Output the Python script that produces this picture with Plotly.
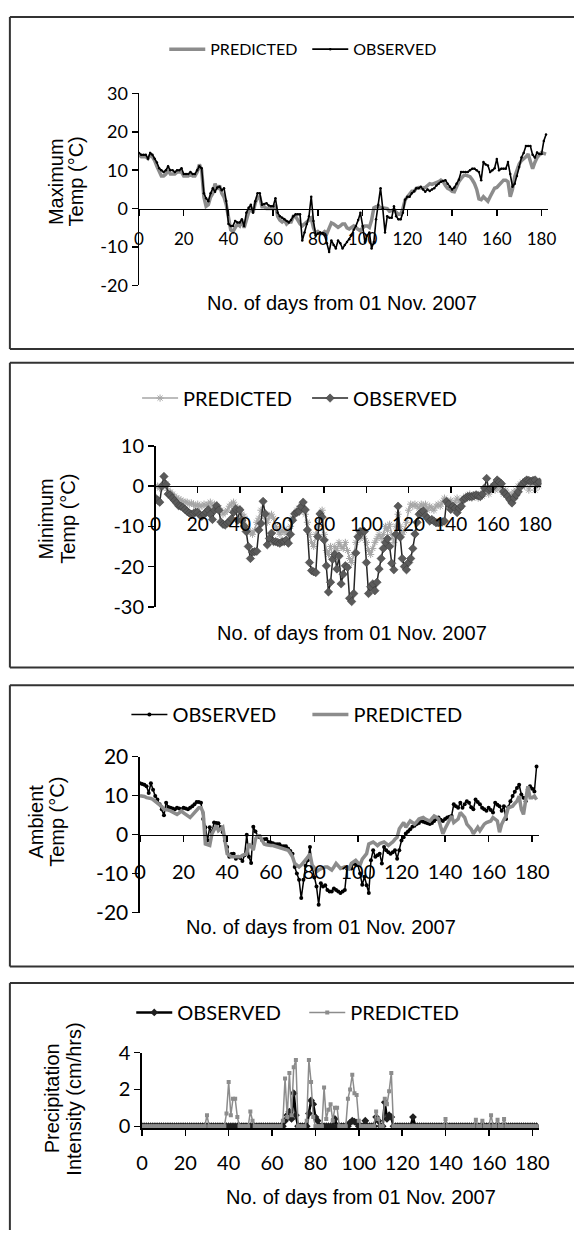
import plotly.graph_objects as go

W, H = 585, 1241

days = list(range(183))
x_ticks = [0, 20, 40, 60, 80, 100, 120, 140, 160, 180]

# ---------------- Panel 1: Maximum temperature ----------------
max_obs = [
    14.5, 14, 14, 14, 13, 14.5, 14, 13, 12, 10.5,
    10, 9.5, 10, 11, 10, 10, 9.5, 10, 10, 10.5,
    9, 9, 9, 9.5, 9, 9, 10, 11, 10.5, 4,
    2.7, 1.9, 4, 5.3, 4.4, 5.5, 5.7, 4.8, 5.3, 2,
    -4, -4.5, -4.5, -3.2, -3.6, -3.6, -2.8, -4.5, -1.1, 0.2,
    1, -1.1, 1.9, 4, 4, 1, 1.2, 1.4, 0.8, 0.6,
    0.6, 2.7, -1.1, -2, -2.4, -2.8, -3.2, -3.6, -3, -2,
    -1.5, -1.5, -1.5, -8.3, -6.2, -4, -2, 3.1, -3.2, -7,
    -6.5, -6.2, -6.5, -7, -9, -11.3, -8.3, -9.5, -10.4, -8.3,
    -9, -10.4, -9.5, -8.7, -8, -7, -5.5, -4.5, -3, -1.1,
    -4.5, -8.7, -7, -6.2, -10.4, -8.7, -2.8, 1, 5.3, 0,
    -6.2, -2, -2.4, -2.4, 0.6, -2, -2.8, -2.8, -1.1, 2.3,
    3.1, 3.1, 4, 4.5, 5.3, 5.3, 5.7, 5, 4.4, 5,
    4.6, 5, 5.3, 6, 6.5, 7, 7.2, 7.4, 6.5, 5.7,
    5, 5.5, 6.5, 7.5, 9.5, 9.5, 9.5, 9.5, 10, 10.4,
    10.4, 10, 9.5, 7.4, 12.1, 11.5, 11.2, 9.5, 10, 10.5,
    12.9, 10, 10.4, 10.4, 10.4, 12.1, 9, 5.7, 6.5, 8.5,
    10.8, 13.3, 14.5, 16.3, 16.3, 16.3, 14, 13.3, 14.6, 14.2,
    14.2, 17.6, 19.3,
]
max_pred = [
    14, 13.5, 13.5, 13.5, 13, 14, 13.5, 12.5, 11, 9.5,
    8.5, 8.5, 9, 10, 9, 9, 9, 9.5, 9.5, 9.5,
    8.5, 8.5, 8.5, 9, 8.5, 8.5, 9.5, 11.5, 10, 3,
    0.6, 1, 3, 4, 6.5, 5, 6, 4, 3, 1,
    -2, -5.5, -6, -5, -4, -4.5, -3, -5, -3, -1,
    0, -1, 1.5, 3, 3, 0.5, 0.5, 0, 0, 0,
    0, 1, -2, -3, -3.5, -3, -4, -3.5, -3.5, -2,
    -2, -3, -4, -4.5, -4, -3.5, -3, -2.5, -5, -6.5,
    -6, -6.5, -6.5, -6, -6.5, -5, -3.7, -4, -4.5, -4.9,
    -4.5, -4, -4, -5, -5.3, -5, -4.5, -5, -5.5, -5.8,
    -5, -4.5, -4.5, -4.9, -3, 0.2, 0.5, 0.6, 0.3, 0.2,
    0.2, 0, -0.7, -0.5, -0.3, -1, -1.5, -1.5, 0, 2.3,
    3, 4, 4.5, 4.5, 5.3, 5.5, 5.3, 5.3, 5.5, 6,
    6.5, 6.3, 6.5, 6.8, 7, 7.4, 7, 6, 5.3, 5,
    4.5, 4.4, 6, 7, 7.8, 8.5, 8.7, 8.5, 8.3, 7.5,
    6.5, 5, 2.5, 2.3, 3.1, 2.5, 1.9, 3.1, 4, 5.3,
    5.5, 6.1, 6.5, 7.4, 7.4, 7, 3.1, 5, 8.3, 10,
    11.6, 12.5, 12.9, 13.5, 14.2, 12, 10.4, 12, 13.3, 14,
    14.6, 14.4, 14.2,
]

# ---------------- Panel 2: Minimum temperature ----------------
min_obs = [
    -3, -3.5, -4, 0, 2.4, 0.4, -2, -2.2, -3, -3.6,
    -4.2, -4.9, -5, -5.3, -5.8, -6.3, -6.7, -7, -6.8, -6.5,
    -6.5, -7.2, -7.5, -7, -6.5, -5.9, -7, -8.3, -6, -4.9,
    -6, -8.9, -9.5, -9.7, -9.2, -8.9, -8.1, -6.5, -5.7, -8.5,
    -5.9, -8.5, -10, -11.3, -15, -18, -16.4, -16.3, -16.2, -10.9,
    -9.3, -3.8, -6.9, -14.6, -13, -11.7, -13.8, -13.8, -14, -14.2,
    -13.8, -13.8, -13.4, -14.2, -12, -8.5, -6.9, -6.5, -6.3, -5.1,
    -4, -5.9, -10.9, -19, -21, -21.3, -21.5, -12.6, -6.9, -7.7,
    -13.4, -19.8, -26.3, -23.9, -18.2, -17, -20.6, -17.4, -24.3, -21.9,
    -19.8, -20.2, -27.9, -28.7, -26.7, -16.6, -12.6, -11.3, -11.3, -11.3,
    -19, -26.7, -25, -24.3, -26, -23.9, -20.6, -18, -15.5, -14,
    -13.1, -15, -19.2, -20.8, -12, -5, -12.7, -18, -20, -20.8,
    -19, -18, -15.5, -11.9, -9, -7, -6.5, -6.2, -7.4, -8,
    -8.7, -8.3, -8.7, -9.1, -9.1, -9.1, -8.9, -8.7, -3.8, -4.5,
    -5.8, -5, -5.5, -6.6, -5.5, -5, -3.4, -3, -2.6, -2.6,
    -2.6, -2.4, -2.2, -2.4, -2.6, -2, -0.5, 1.9, -1, -0.6,
    -0.2, 0.5, 1.5, 1, 0.6, -1.4, -2, -2.6, -3.4, -4.2,
    -3, -2.2, -1.4, -0.2, 0.5, 1.1, 1.5, 1.4, 1.2, 1.4,
    1.5, 0.6, 1,
]
min_pred = [
    0, 0, -0.5, -0.5, 0.5, 0.5, -1, -1.5, -2, -2.5,
    -3, -3.2, -3.5, -3.8, -4, -4, -4.5, -4.2, -4.5, -5,
    -4.5, -5, -5, -4.5, -4.8, -4.5, -4, -5, -4.5, -5,
    -5.5, -6, -7, -6.5, -6, -5, -4.5, -4, -5, -5.5,
    -6, -7, -7.5, -10, -11, -11.5, -12, -11, -9, -8,
    -6, -7, -8, -9, -7.5, -7, -8, -10, -11, -12,
    -11, -11.5, -11, -12, -10, -8, -7, -6, -5.5, -5,
    -6, -7, -9, -12, -14, -15, -12, -10, -8, -6,
    -12, -16, -17, -15, -17.5, -15, -16, -14, -15, -15.5,
    -14, -16, -18, -19, -17, -14, -12.5, -13, -12, -13,
    -14, -16, -17, -15.5, -14, -13, -12, -13, -12, -10,
    -11, -9.5, -12, -14, -10, -7, -10, -12, -11, -9,
    -6, -4.5, -5, -4.5, -5, -5.5, -4.5, -5, -4.5, -6,
    -5, -5.5, -6, -5, -4.5, -5, -4, -3, -4, -5,
    -3.5, -5, -4, -3, -4, -3.5, -3, -2.5, -3, -2,
    -3, -2.5, -2, -3, -2, -2.5, -1.5, -1, -2, -1,
    0, -1, -0.5, 0, -1, -2, -1, -2, -3, -2,
    -1.5, -1, 0, 0.5, 1, 0, 1, -1, 0.5, 1,
    -1, 0.5, 0,
]

# ---------------- Panel 3: Ambient temperature ----------------
amb_obs = [
    13.2, 13, 12.8, 12.4, 10.7, 13.2, 11.5, 9.9, 9, 7.8,
    6.5, 5, 8.2, 7.1, 6.9, 6.7, 6.5, 6.9, 6.7, 6.5,
    6.9, 6.7, 6.5, 6.9, 7.3, 7.8, 8.4, 8.4, 8.2, 4,
    1.9, -1.5, 1.9, 0.6, 3.1, 3, 2.9, 1.9, 0.6, -1.5,
    -3.2, -5.7, -5, -4.9, -6.2, -5.7, -6, -6.8, -5.3, 0,
    -5.7, -7.3, 2, 0.8, -0.3, -0.7, -1.4, -1.2, -1.1, -1.9,
    -2, -2.2, -2.5, -2.5, -2.5, -3, -3, -3, -3.6, -4.2,
    -4.9, -8.3, -10, -11.6, -16.3, -11.6, -8, -6.6, -3.2, -8.3,
    -11, -13.3, -18, -12.5, -13.3, -13, -14.2, -14.6, -14.6, -13.8,
    -14.2, -14.6, -15, -14.6, -14.2, -8.7, -8.7, -8.7, -7.4, -7.6,
    -7.8, -10, -12.9, -10.8, -13, -15, -6.6, -4, -5.7, -5.3,
    -4.9, -7.4, -3.2, -4, -4.5, -4.9, -4.5, -4, -6.2, -4,
    -1.5, -0.7, 0.3, 0.8, 1.4, 2, 2.3, 2.7, 3, 3.5,
    3.3, 3.1, 2.9, 2.7, 3, 3.5, 4, 4.4, 3.8, 3.5,
    4, 4.4, 4.6, 4.8, 7.8, 7.3, 6.9, 8.2, 6.9, 7.8,
    8.6, 8.2, 7, 6.5, 9, 8.4, 7.8, 6.9, 6.5, 6.1,
    6.9, 6.3, 5.7, 8.2, 7.7, 7.3, 6.1, 7.3, 4, 7,
    8.6, 9.9, 11, 12, 12.8, 10.3, 9.5, 8.6, 11.6, 12.4,
    11.8, 11.1, 17.5,
]
amb_pred = [
    10, 10, 9.8, 9.5, 9.5, 9.3, 9, 8.6, 8.2, 7.8,
    7.2, 6.5, 6.5, 6.3, 6.1, 5.8, 5.5, 5.2, 5.6, 6.1,
    5.6, 5.2, 4.8, 4.4, 5, 5.7, 6.3, 6.9, 6.9, 5.7,
    -2.4, -2.6, -2.8, 0.2, 1.3, 2.3, 1, 1.5, 1.9, -1.5,
    -4.9, -5.3, -5.7, -5.7, -5.7, -5.7, -5.7, -5.3, -5, -4.9,
    -2.4, -3, -4, -1.1, -0.3, -0.3, -1.4, -2.4, -2.6, -2.8,
    -2.8, -2.8, -3, -3.2, -3.4, -3.6, -3.8, -4, -4, -4.8,
    -5.7, -7.4, -7.8, -8.3, -7.8, -7.2, -6.6, -5.8, -4.9, -7.8,
    -8.5, -9.5, -9.1, -8.7, -8.5, -8.3, -8.3, -8.7, -9.1, -8.3,
    -7.4, -8, -8.7, -8.5, -8.3, -8.5, -8.7, -7.4, -7, -6.6,
    -7.2, -7.8, -6.3, -5.5, -4.9, -2.4, -2.2, -1.9, -2.3, -2.8,
    -2.3, -2.1, -1.9, -2.3, -2.8, -2.3, -1.9, -1.2, -0.7, 1.5,
    2.5, 3.1, 1.9, 2.7, 3.5, 3.1, 2.7, 3.3, 4, 4.2,
    4.4, 4, 3.7, 3.5, 4.2, 4.8, 4.5, 4, 2, 0.2,
    1.5, 2.7, 3.8, 4.8, 3.1, 3.5, 4, 5.7, 5, 4.4,
    2.7, 2, 1.4, 0.2, 1, 1.9, 1, 1.8, 2.7, 3.1,
    3.3, 3.5, 4.4, 4, 3.5, 0.6, 2.7, 3.8, 4.8, 6.9,
    7.1, 7.3, 8, 8.6, 9.9, 6.5, 5.2, 8.5, 12.4, 9.5,
    9.5, 9.9, 9,
]

# ---------------- Panel 4: Precipitation intensity (non-zero days) ----------------
prec_obs_days = [66, 67, 68, 69, 70, 71, 77, 78, 79, 80, 81, 89, 96, 97, 98, 99,
                 103, 108, 109, 112, 113, 114, 115, 125]
prec_obs_vals = [0.3, 0.6, 0.8, 0.4, 1.8, 0.6, 0.7, 1.4, 1.2, 0.5, 0.3, 0.4, 0.2, 0.3, 0.25, 0.2,
                 0.3, 0.5, 0.3, 1.3, 0.4, 0.6, 0.5, 0.5]
prec_pred_days = [30, 39, 40, 41, 42, 43, 44, 50, 51, 65, 66, 67, 68, 69, 70, 71,
                  76, 77, 78, 79, 84, 85, 86, 87, 88, 89, 90, 95, 96, 97, 98, 99, 100,
                  108, 109, 112, 113, 114, 115, 140, 154, 157, 161, 164, 167]
prec_pred_vals = [0.6, 0.7, 2.4, 0.6, 1.5, 1.5, 0.5, 0.8, 0.3, 0.3, 2.6, 0.5, 2.9, 0.6, 3.2, 3.6,
                  0.3, 3.6, 2.4, 0.5, 2.1, 0.4, 0.9, 1.2, 0.3, 1.0, 1.0, 1.5, 2.0, 2.8, 1.8, 1.7, 0.3,
                  0.8, 0.4, 1.5, 1.2, 1.9, 2.9, 0.4, 0.35, 0.3, 0.6, 0.35, 0.4]
_po = dict(zip(prec_obs_days, prec_obs_vals))
_pp = dict(zip(prec_pred_days, prec_pred_vals))
prec_obs = [_po.get(d, 0.0) for d in days]
prec_pred = [_pp.get(d, 0.0) for d in days]


def fx(px):
    return px / W


def fy(py):
    return 1 - py / H


def tick_text(vals):
    return [str(v) for v in vals]  # plain hyphen-minus like the original


TICK_FONT = "Lato, sans-serif"
TITLE_FONT = "Liberation Sans, Arial, sans-serif"

fig = go.Figure()

# Panel 1
fig.add_trace(go.Scatter(x=days, y=max_pred, name="PREDICTED", mode="lines",
                         line=dict(color="#8c8c8c", width=3.5),
                         xaxis="x", yaxis="y", legend="legend"))
fig.add_trace(go.Scatter(x=days, y=max_obs, name="OBSERVED", mode="lines+markers",
                         line=dict(color="#000000", width=1.6),
                         marker=dict(size=2.5, color="#000000"),
                         xaxis="x", yaxis="y", legend="legend"))
# Panel 2
fig.add_trace(go.Scatter(x=days, y=min_pred, name="PREDICTED", mode="lines+markers",
                         line=dict(color="#a6a6a6", width=1.5),
                         marker=dict(symbol="asterisk-open", size=6,
                                     line=dict(color="#a6a6a6", width=1)),
                         xaxis="x2", yaxis="y2", legend="legend2"))
fig.add_trace(go.Scatter(x=days, y=min_obs, name="OBSERVED", mode="lines+markers",
                         line=dict(color="#262626", width=1.5),
                         marker=dict(symbol="diamond", size=6.5, color="#5a5a5a",
                                     line=dict(color="#3a3a3a", width=0.5)),
                         xaxis="x2", yaxis="y2", legend="legend2"))
# Panel 3
fig.add_trace(go.Scatter(x=days, y=amb_obs, name="OBSERVED", mode="lines+markers",
                         line=dict(color="#000000", width=1.5),
                         marker=dict(size=4, color="#000000"),
                         xaxis="x3", yaxis="y3", legend="legend3"))
fig.add_trace(go.Scatter(x=days, y=amb_pred, name="PREDICTED", mode="lines",
                         line=dict(color="#8c8c8c", width=3.5),
                         xaxis="x3", yaxis="y3", legend="legend3"))
# Panel 4
fig.add_trace(go.Scatter(x=days, y=prec_obs, name="OBSERVED", mode="lines+markers",
                         line=dict(color="#000000", width=2.5),
                         marker=dict(symbol="diamond", size=6, color="#202020"),
                         xaxis="x4", yaxis="y4", legend="legend4"))
fig.add_trace(go.Scatter(x=days, y=prec_pred, name="PREDICTED", mode="lines+markers",
                         line=dict(color="#8c8c8c", width=1.5),
                         marker=dict(symbol="square", size=4, color="#8c8c8c"),
                         xaxis="x4", yaxis="y4", legend="legend4"))

panels = [
    dict(xl=137, xr=558.5, yt=81, yb=277, yr=[-20, 30], yt_vals=[-20, -10, 0, 10, 20, 30],
         xaxis_py=199, xfs=17, yfs=18, so=8),
    dict(xl=154, xr=551.5, yt=440.7, yb=605, yr=[-30, 10], yt_vals=[-30, -20, -10, 0, 10],
         xaxis_py=481.7, xfs=19, yfs=20, so=15),
    dict(xl=138, xr=548.7, yt=758, yb=917, yr=[-20, 20], yt_vals=[-20, -10, 0, 10, 20],
         xaxis_py=837.5, xfs=20, yfs=21, so=13),
    dict(xl=140, xr=548.7, yt=1060, yb=1137, yr=[-0.1, 4], yt_vals=[0, 2, 4],
         xaxis_py=None, xfs=20, yfs=20, so=10),
]

layout = dict(
    width=W, height=H, margin=dict(l=0, r=0, t=0, b=0),
    paper_bgcolor="white", plot_bgcolor="white", showlegend=True,
)

for i, p in enumerate(panels, start=1):
    sx = "" if i == 1 else str(i)
    xa = dict(domain=[fx(p["xl"]), fx(p["xr"])], range=[0, 183],
              tickmode="array", tickvals=x_ticks, ticktext=tick_text(x_ticks),
              ticks="outside", ticklen=6, tickwidth=1.5, tickcolor="#000",
              showline=True, linecolor="#000", linewidth=1.5,
              showgrid=False, zeroline=False,
              tickfont=dict(family=TICK_FONT, size=p["xfs"], color="#000"),
              ticklabelstandoff=p["so"])
    if p["xaxis_py"] is not None:
        # axis crosses the value axis at 0, as in the original
        xa.update(anchor="free", position=fy(p["xaxis_py"]))
    else:
        xa.update(anchor="y" + sx)
    ya = dict(domain=[fy(p["yb"]), fy(p["yt"])], range=p["yr"], anchor="x" + sx,
              tickmode="array", tickvals=p["yt_vals"], ticktext=tick_text(p["yt_vals"]),
              ticks="outside", ticklen=6, tickwidth=1.5, tickcolor="#000",
              showline=True, linecolor="#000", linewidth=1.5,
              showgrid=False, zeroline=False,
              tickfont=dict(family=TICK_FONT, size=p["yfs"], color="#000"))
    layout["xaxis" + sx] = xa
    layout["yaxis" + sx] = ya

# (legend name, x of first sample, y centre, font size, entry width)
leg_specs = [
    ("legend", 163, 36, 16, 92),
    ("legend2", 135, 392, 20, 119),
    ("legend3", 124, 715, 20, 130),
    ("legend4", 129, 1019, 20, 122),
]
for name, lx, ly, fsz, ew in leg_specs:
    layout[name] = dict(orientation="h", x=fx(lx), y=fy(ly), xanchor="left", yanchor="middle",
                        font=dict(family=TICK_FONT, size=fsz, color="#000"),
                        bgcolor="rgba(0,0,0,0)", entrywidth=ew, entrywidthmode="pixels",
                        itemwidth=36, traceorder="normal", itemclick=False)

fig.update_layout(**layout)

# panel frames: the right edge (and the bottom of the last frame) fall outside the picture
FRAME = dict(color="#333333", width=2)
frames = [(3, 342), (356, 667), (685, 972), (989, None)]
for top, bot in frames:
    bottom_px = bot if bot is not None else H
    fig.add_shape(type="line", xref="paper", yref="paper",
                  x0=fx(4), x1=1, y0=fy(top), y1=fy(top), line=FRAME)
    fig.add_shape(type="line", xref="paper", yref="paper",
                  x0=fx(4), x1=fx(4), y0=fy(top), y1=fy(bottom_px), line=FRAME)
    if bot is not None:
        fig.add_shape(type="line", xref="paper", yref="paper",
                      x0=fx(4), x1=1, y0=fy(bot), y1=fy(bot), line=FRAME)

ann = []
ytitles = [
    ("Maximum", 51, 171), ("Temp (°C)", 72, 171),
    ("Minimum", 41, 515), ("Temp (°C)", 63, 515),
    ("Ambient", 31, 824), ("Temp (°C)", 53, 824),
    ("Precipitation", 47, 1107), ("Intensity (cm/hrs)", 70, 1107),
]
for txt, px, py in ytitles:
    ann.append(dict(text=txt, x=fx(px), y=fy(py), xref="paper", yref="paper",
                    showarrow=False, textangle=-90, xanchor="center", yanchor="middle",
                    font=dict(family=TITLE_FONT, size=20, color="#000")))
xtitles = [(346, 295), (356, 632), (324, 932), (366, 1207)]
for px, py in xtitles:
    ann.append(dict(text="No. of days from 01 Nov. 2007", x=fx(px), y=fy(py),
                    xref="paper", yref="paper", showarrow=False,
                    xanchor="center", yanchor="middle",
                    font=dict(family=TITLE_FONT, size=20, color="#000")))
fig.update_layout(annotations=ann)

# remove the default page margin so the 585x1241 figure fills the window exactly
page_css = ("document.body.style.margin='0';document.body.style.padding='0';"
            "document.body.style.overflow='hidden';"
            "document.documentElement.style.overflow='hidden';")

fig.write_html("out.html", post_script=page_css,
               config={"displayModeBar": False, "staticPlot": True})
